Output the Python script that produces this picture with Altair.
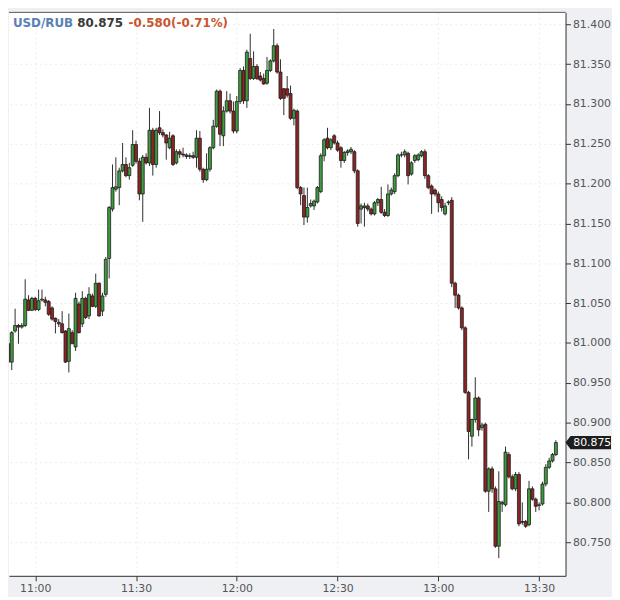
import altair as alt
import pandas as pd

# ---- data (1-minute USD/RUB candles from 10:52 to 13:35) ----
symbol = "USD/RUB"
last_text = "80.875"
change_text = "-0.580(-0.71%)"
start_minute = 652  # 10:52

opens = [80.999, 80.976, 81.015, 81.022, 81.020, 81.022, 81.054, 81.041, 81.056, 81.042,
         81.054, 81.054, 81.052, 81.044, 81.031, 81.026, 81.024, 81.015, 80.977, 81.013,
         80.995, 81.049, 81.024, 81.056, 81.034, 81.059, 81.046, 81.075, 81.040, 81.061,
         81.106, 81.168, 81.193, 81.195, 81.216, 81.224, 81.210, 81.223, 81.249, 81.228,
         81.187, 81.233, 81.226, 81.267, 81.224, 81.270, 81.264, 81.261, 81.245, 81.260,
         81.226, 81.240, 81.237, 81.236, 81.234, 81.235, 81.233, 81.257, 81.218, 81.205,
         81.218, 81.245, 81.272, 81.316, 81.260, 81.291, 81.304, 81.291, 81.266, 81.303,
         81.342, 81.304, 81.357, 81.332, 81.347, 81.335, 81.332, 81.326, 81.342, 81.354,
         81.373, 81.340, 81.319, 81.319, 81.313, 81.282, 81.291, 81.195, 81.185, 81.158,
         81.172, 81.172, 81.177, 81.190, 81.235, 81.257, 81.245, 81.260, 81.251, 81.245,
         81.229, 81.239, 81.240, 81.240, 81.216, 81.168, 81.170, 81.172, 81.168, 81.162,
         81.176, 81.180, 81.164, 81.160, 81.187, 81.190, 81.210, 81.236, 81.236, 81.238,
         81.212, 81.229, 81.230, 81.235, 81.240, 81.210, 81.197, 81.192, 81.187, 81.180,
         81.162, 81.176, 81.179, 81.075, 81.060, 81.044, 81.019, 80.938, 80.883, 80.904,
         80.931, 80.894, 80.898, 80.814, 80.842, 80.817, 80.745, 80.798, 80.797, 80.860,
         80.832, 80.817, 80.835, 80.776, 80.776, 80.772, 80.817, 80.804, 80.796, 80.798,
         80.823, 80.844, 80.852, 80.860]
highs = [81.001, 81.015, 81.043, 81.024, 81.025, 81.080, 81.060, 81.058, 81.058, 81.067,
         81.067, 81.058, 81.054, 81.046, 81.032, 81.030, 81.040, 81.016, 81.037, 81.016,
         81.063, 81.052, 81.065, 81.058, 81.070, 81.062, 81.087, 81.076, 81.063, 81.108,
         81.172, 81.224, 81.233, 81.220, 81.251, 81.233, 81.226, 81.267, 81.254, 81.232,
         81.236, 81.238, 81.295, 81.270, 81.270, 81.291, 81.268, 81.262, 81.265, 81.262,
         81.243, 81.243, 81.245, 81.238, 81.238, 81.240, 81.267, 81.266, 81.220, 81.238,
         81.247, 81.280, 81.318, 81.318, 81.297, 81.316, 81.313, 81.303, 81.310, 81.345,
         81.347, 81.368, 81.388, 81.366, 81.350, 81.340, 81.338, 81.359, 81.356, 81.394,
         81.376, 81.356, 81.320, 81.335, 81.323, 81.294, 81.293, 81.197, 81.195, 81.195,
         81.180, 81.180, 81.197, 81.238, 81.257, 81.270, 81.257, 81.262, 81.254, 81.247,
         81.241, 81.243, 81.246, 81.242, 81.218, 81.175, 81.176, 81.175, 81.170, 81.178,
         81.182, 81.196, 81.168, 81.199, 81.195, 81.213, 81.238, 81.240, 81.243, 81.240,
         81.228, 81.237, 81.238, 81.242, 81.243, 81.212, 81.199, 81.194, 81.190, 81.184,
         81.176, 81.179, 81.183, 81.077, 81.062, 81.046, 81.021, 80.940, 80.905, 80.957,
         80.933, 80.900, 80.900, 80.844, 80.845, 80.820, 80.839, 80.802, 80.870, 80.863,
         80.835, 80.838, 80.838, 80.800, 80.778, 80.827, 80.820, 80.806, 80.800, 80.826,
         80.848, 80.856, 80.862, 80.878]
lows = [80.970, 80.966, 81.013, 80.999, 81.018, 81.020, 81.040, 81.040, 81.040, 81.040,
        81.052, 81.046, 81.034, 81.028, 81.012, 81.020, 81.012, 80.975, 80.963, 80.999,
        80.990, 81.012, 81.020, 81.030, 81.030, 81.045, 81.044, 81.033, 81.034, 81.058,
        81.081, 81.165, 81.190, 81.173, 81.214, 81.208, 81.205, 81.221, 81.225, 81.179,
        81.152, 81.224, 81.222, 81.210, 81.220, 81.261, 81.258, 81.230, 81.243, 81.222,
        81.224, 81.232, 81.233, 81.231, 81.231, 81.231, 81.220, 81.215, 81.201, 81.203,
        81.215, 81.243, 81.270, 81.247, 81.247, 81.289, 81.288, 81.263, 81.263, 81.300,
        81.300, 81.295, 81.330, 81.330, 81.330, 81.328, 81.324, 81.324, 81.340, 81.352,
        81.338, 81.305, 81.286, 81.308, 81.280, 81.273, 81.193, 81.173, 81.148, 81.151,
        81.170, 81.167, 81.175, 81.188, 81.228, 81.243, 81.242, 81.249, 81.240, 81.220,
        81.226, 81.235, 81.237, 81.213, 81.146, 81.150, 81.146, 81.165, 81.160, 81.160,
        81.172, 81.162, 81.158, 81.158, 81.185, 81.187, 81.208, 81.233, 81.233, 81.199,
        81.210, 81.226, 81.228, 81.233, 81.206, 81.193, 81.162, 81.184, 81.164, 81.165,
        81.160, 81.173, 81.070, 81.044, 81.042, 81.016, 80.936, 80.854, 80.870, 80.900,
        80.883, 80.890, 80.812, 80.788, 80.812, 80.743, 80.730, 80.788, 80.795, 80.830,
        80.815, 80.814, 80.770, 80.772, 80.768, 80.770, 80.802, 80.788, 80.790, 80.796,
        80.820, 80.842, 80.850, 80.858]
closes = [80.976, 81.013, 81.022, 81.020, 81.022, 81.055, 81.041, 81.056, 81.042, 81.053,
          81.055, 81.051, 81.036, 81.030, 81.027, 81.024, 81.013, 80.976, 81.018, 80.999,
          81.056, 81.013, 81.056, 81.032, 81.061, 81.046, 81.075, 81.034, 81.059, 81.105,
          81.170, 81.195, 81.196, 81.216, 81.224, 81.210, 81.220, 81.249, 81.228, 81.187,
          81.233, 81.226, 81.267, 81.224, 81.267, 81.264, 81.261, 81.251, 81.257, 81.224,
          81.240, 81.237, 81.236, 81.234, 81.235, 81.233, 81.257, 81.218, 81.205, 81.218,
          81.245, 81.272, 81.316, 81.262, 81.291, 81.304, 81.291, 81.266, 81.303, 81.342,
          81.304, 81.365, 81.332, 81.347, 81.332, 81.330, 81.325, 81.342, 81.354, 81.373,
          81.340, 81.307, 81.307, 81.311, 81.282, 81.292, 81.195, 81.187, 81.158, 81.170,
          81.175, 81.178, 81.195, 81.235, 81.255, 81.245, 81.255, 81.251, 81.242, 81.229,
          81.239, 81.241, 81.243, 81.216, 81.150, 81.172, 81.172, 81.168, 81.162, 81.176,
          81.180, 81.164, 81.160, 81.187, 81.192, 81.210, 81.236, 81.236, 81.240, 81.210,
          81.226, 81.235, 81.236, 81.240, 81.210, 81.195, 81.187, 81.187, 81.176, 81.170,
          81.172, 81.177, 81.075, 81.060, 81.044, 81.019, 80.938, 80.889, 80.904, 80.931,
          80.891, 80.897, 80.814, 80.842, 80.817, 80.745, 80.801, 80.800, 80.863, 80.832,
          80.817, 80.835, 80.773, 80.775, 80.770, 80.817, 80.804, 80.795, 80.797, 80.823,
          80.844, 80.852, 80.860, 80.875]

minutes = [start_minute + k for k in range(len(closes))]
y_ticks = [80.75, 80.80, 80.85, 80.90, 80.95, 81.00, 81.05, 81.10, 81.15, 81.20, 81.25, 81.30, 81.35, 81.40]
x_ticks = [660, 690, 720, 750, 780, 810]

df = pd.DataFrame({"minute": minutes, "open": opens, "high": highs, "low": lows, "close": closes})
df["dir"] = ["up" if c >= o else "down" for o, c in zip(opens, closes)]

W, H = 563, 570
x_scale = alt.Scale(domain=[653.65, 816.4], nice=False, zero=False)
y_scale = alt.Scale(domain=[80.70782, 81.41489], nice=False, zero=False)

x_axis = alt.Axis(values=x_ticks, title=None, grid=True, gridDash=[2, 3], gridColor="#ececec",
                  labelExpr="floor(datum.value/60) + ':' + (datum.value % 60 < 10 ? '0' : '') + (datum.value % 60)",
                  tickSize=5, tickColor="#333", domainColor="#333", labelFont="DejaVu Sans",
                  labelFontSize=11, labelColor="#555", labelPadding=2, labelFlush=False)
y_axis = alt.Axis(orient="right", values=y_ticks, format=".3f", title=None, grid=True,
                  gridDash=[2, 3], gridColor="#ececec", tickSize=5, tickColor="#333",
                  domainColor="#333", labelFont="DejaVu Sans", labelFontSize=11,
                  labelColor="#555", labelPadding=2)

X = alt.X("minute:Q", scale=x_scale, axis=x_axis)

base = alt.Chart(df)
wicks = base.mark_rule(color="#2e2e2e", strokeWidth=1, clip=True).encode(
    x=X, y=alt.Y("low:Q", scale=y_scale, axis=y_axis), y2="high:Q")
bodies = base.mark_bar(size=3, stroke="#1c1c1c", strokeWidth=0.8, clip=True).encode(
    x=X, y=alt.Y("open:Q", scale=y_scale, axis=y_axis), y2="close:Q",
    color=alt.Color("dir:N", scale=alt.Scale(domain=["up", "down"], range=["#3e9b3e", "#8f2424"]),
                    legend=None))

top_line = alt.Chart(pd.DataFrame({"a": [0]})).mark_rule(color="#555", strokeWidth=1).encode(
    x=alt.value(0), x2=alt.value(W), y=alt.value(0))

hdr = pd.DataFrame({"a": [0]})
t1 = alt.Chart(hdr).mark_text(text=symbol, font="DejaVu Sans", fontSize=12, fontWeight="bold",
                              color="#5a80b4", align="left", baseline="alphabetic").encode(
    x=alt.value(4), y=alt.value(14.5))
t2 = alt.Chart(hdr).mark_text(text=last_text, font="DejaVu Sans", fontSize=12, fontWeight="bold",
                              color="#3a3a3a", align="left", baseline="alphabetic").encode(
    x=alt.value(69), y=alt.value(14.5))
t3 = alt.Chart(hdr).mark_text(text=change_text, font="DejaVu Sans", fontSize=12, fontWeight="bold",
                              color="#c9552f", align="left", baseline="alphabetic").encode(
    x=alt.value(121), y=alt.value(14.5))

last_df = pd.DataFrame({"p": [closes[-1]]})
tag_path = "M -1 0 L -0.78 -0.29 L 1 -0.29 L 1 0.29 L -0.78 0.29 Z"
tag = alt.Chart(last_df).mark_point(shape=tag_path, size=2116, filled=True, color="#1e1e1e",
                                    opacity=1, strokeWidth=0).encode(
    x=alt.value(W + 23), y=alt.Y("p:Q", scale=y_scale, axis=y_axis))
tag_text = alt.Chart(last_df).mark_text(text=last_text, font="DejaVu Sans", fontSize=11,
                                        color="white", align="center", baseline="middle").encode(
    x=alt.value(W + 27), y=alt.Y("p:Q", scale=y_scale, axis=y_axis))

chart = alt.layer(wicks, bodies, top_line, t1, t2, t3, tag, tag_text).properties(
    width=W, height=H, padding=0, background="#eef0f4"
).configure_view(fill="white", strokeWidth=0)

chart.save("out.html", embed_options={"renderer": "svg", "actions": False})
